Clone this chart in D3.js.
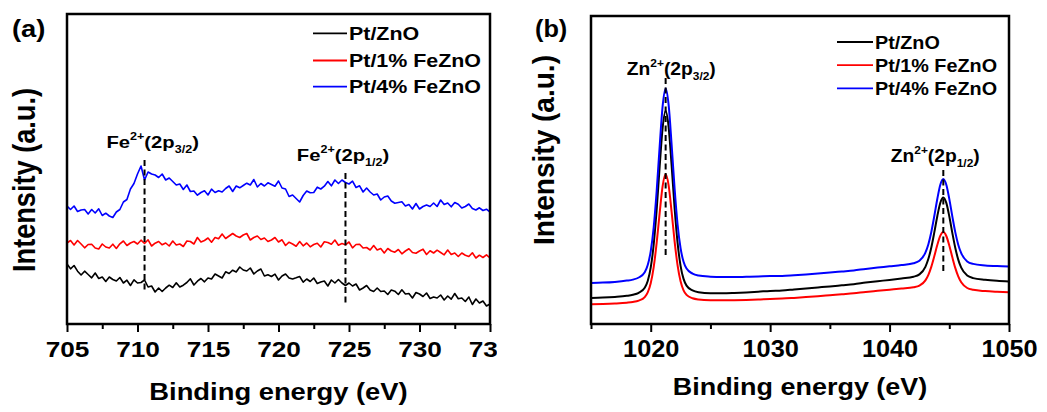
<!DOCTYPE html>
<meta charset="utf-8">
<script src="https://d3js.org/d3.v7.min.js"></script>
<style>
    body {
        margin: 0;
        background: #fff;
    }

    svg {
        display: block;
        font-family: "Liberation Sans", Arial, sans-serif;
    }
</style>
<div id="viz_area"></div>
<script>
    // (a) Fe 2p region, one reading every 0.25 eV from 705 eV
    var feStart = 705,
        feStep = 0.25
    var feZnO = [60, 55.2, 58.5, 52.8, 49, 52.8, 49.5, 46.2, 51, 45.5,
        47, 42.5, 47, 44.5, 43, 46.5, 41, 43.8, 38.5, 44.2,
        41, 41.5, 44, 37, 38, 32, 36, 32.5, 36, 38.8,
        36.5, 41.2, 37, 38.8, 41.5, 45.2, 39, 42.8, 45.5, 42.2,
        46, 45, 50, 48, 46, 52.2, 50.5, 53.8, 52, 57,
        54, 53, 56, 50, 53, 55, 48, 49.2, 47.5, 49.8,
        44, 48, 50, 46, 45, 46.2, 47.5, 41.8, 45, 42.5,
        46, 40.5, 42, 43, 38, 44, 41, 44.5, 41, 38.5,
        41, 38, 40, 34, 36, 38.5, 34, 32.5, 36, 32.5,
        33, 29.5, 34, 32.8, 29.5, 34.2, 30, 30.5, 26, 31.5,
        30, 27.5, 31, 25.5, 27, 26, 29, 24, 28, 24.8,
        30.5, 25.2, 26, 22.5, 27, 19.5, 25, 21, 23, 18,
        20
    ]
    var fe1 = [81, 83.5, 79, 83.5, 80, 76.2, 79.5, 79.8, 76, 75,
        80, 77, 76, 79.8, 75.5, 80.2, 83, 78.5, 81, 82.5,
        80, 83.8, 80.5, 84.2, 78, 80.8, 82.5, 79.2, 81, 78,
        83, 79, 80, 77.5, 83, 82.5, 80, 86.5, 82, 83.5,
        86, 81.8, 86.5, 85.2, 90, 85.5, 88, 90.5, 88, 86.5,
        89, 90.5, 84, 86.5, 88, 84.5, 86, 82.5, 84, 86.5,
        82, 84.2, 78.5, 81.8, 80, 77.8, 82.5, 78.2, 81, 77.2,
        79.5, 80.8, 77, 82.2, 81.5, 79.8, 84, 78.8, 80.5, 79.2,
        82, 76.2, 79.5, 79.8, 76, 76.5, 74, 78.5, 74, 75.5,
        71, 75.5, 73, 71.8, 74.5, 70.2, 73, 75.2, 71.5, 70.8,
        73, 74.8, 69.5, 73.2, 71, 73.8, 71.5, 69.2, 74, 69.5,
        71, 67.5, 71, 68.8, 67.5, 71.2, 66, 68.8, 66.5, 69.2,
        66
    ]
    var fe4 = [118, 114.5, 118, 112.5, 114, 114.5, 110, 114.5, 111, 115.2,
        108.5, 110.8, 108, 106.5, 112, 114.5, 122, 124.5, 135, 140.5,
        150, 158, 144, 152, 150, 149, 146.5, 150, 144, 146,
        142.5, 139, 140, 134.5, 139, 132.5, 133, 128.8, 131.5, 133.2,
        129, 134.8, 131.5, 133.2, 132, 135.5, 138, 132.5, 138, 136.2,
        138.5, 140.8, 139, 144.5, 137, 140.5, 138, 141.2, 139.5, 137.8,
        143, 136, 135, 127.5, 129, 125.5, 122, 128.5, 133, 131.2,
        131.5, 136.8, 135, 137.8, 142.5, 138.2, 144, 140.5, 144, 141.5,
        140, 142.8, 136.5, 138.2, 132, 136, 132, 129, 130, 124,
        127, 128, 123, 120.8, 121.5, 122.2, 118, 119.5, 115, 120.5,
        115, 117.5, 119, 117.5, 121, 117.5, 124, 119.5, 121, 117.2,
        121.5, 119.8, 116, 117.5, 120, 115.5, 114, 116.2, 113.5, 114.8,
        112
    ]
    var feEnergy = feZnO.map(function(d, i) {
        return feStart + i * feStep
    })

    // (b) Zn 2p region
    var znEnergy = [1015, 1016, 1017, 1018, 1018.5, 1019, 1019.5, 1019.75, 1020, 1020.25,
        1020.5, 1020.75, 1021, 1021.25, 1021.5, 1021.75, 1022, 1022.25, 1022.5, 1022.75,
        1023, 1023.5, 1024, 1025, 1026, 1027, 1028, 1029, 1030, 1031,
        1032, 1033, 1034, 1035, 1036, 1037, 1038, 1039, 1040, 1041,
        1042, 1042.5, 1043, 1043.25, 1043.5, 1043.75, 1044, 1044.25, 1044.5, 1044.75,
        1045, 1045.25, 1045.5, 1045.75, 1046, 1046.5, 1047, 1048, 1049, 1050
    ]
    var znZnO = [26.0, 26.4, 27.1, 28.2, 29.2, 31.2, 36.2, 43.0, 56.3, 79.5,
        114.6, 157.5, 196.4, 213.0, 196.9, 158.5, 116.0, 81.1, 58.2, 45.1,
        38.4, 33.6, 31.8, 30.8, 30.8, 31.1, 31.6, 32.3, 33.1, 33.6,
        34.6, 35.6, 36.6, 37.6, 38.7, 39.8, 41.4, 42.8, 44.1, 45.6,
        47.3, 49.6, 57.2, 65.2, 76.8, 91.9, 108.0, 121.3, 126.5, 121.1,
        107.7, 91.4, 76.2, 64.4, 56.3, 48.4, 45.9, 44.2, 43.2, 42.6
    ]
    var zn1 = [19.7, 20.0, 20.5, 21.3, 22.0, 23.4, 26.9, 31.6, 40.8, 56.9,
        81.3, 111.1, 138.1, 149.7, 138.6, 112.1, 82.7, 58.6, 42.7, 33.7,
        29.1, 25.7, 24.5, 23.8, 23.7, 23.8, 24.1, 24.5, 25.1, 25.4,
        26.1, 26.9, 27.8, 28.8, 29.8, 30.8, 32.1, 33.2, 34.3, 35.4,
        36.7, 38.3, 43.6, 49.2, 57.4, 67.9, 79.2, 88.3, 92.0, 88.0,
        78.5, 66.9, 56.1, 47.6, 41.7, 36.0, 34.2, 32.9, 32.2, 31.7
    ]
    var zn4 = [41.1, 41.4, 42.1, 43.4, 44.4, 46.5, 51.7, 58.9, 72.7, 96.7,
        133.2, 177.8, 218.1, 235.6, 219.1, 179.5, 135.5, 99.5, 75.8, 62.2,
        55.4, 50.4, 48.5, 47.3, 46.9, 46.9, 47.2, 47.5, 47.9, 48.0,
        48.7, 49.5, 50.4, 51.4, 52.5, 53.6, 55.1, 56.4, 57.7, 59.0,
        60.7, 63.2, 71.4, 79.8, 92.3, 108.2, 125.3, 139.3, 145, 139.2,
        125.1, 107.9, 91.9, 79.3, 70.8, 62.6, 60.1, 58.6, 57.9, 57.6
    ]

    var seriesNames = ["Pt/ZnO", "Pt/1% FeZnO", "Pt/4% FeZnO"]
    var seriesColors = ["#000000", "#ff0000", "#0000ff"]

    var feTicks = [705, 710, 715, 720, 725, 730, 735]
    var feMinor = [707.5, 712.5, 717.5, 722.5, 727.5, 732.5]
    var znTicks = [1020, 1030, 1040, 1050]
    var znMinor = [1015, 1025, 1035, 1045]

    // peak markers (energy, intensity top, intensity bottom)
    var fePeaks = [710.5, 724.75],
        fePeakTop = [164, 151],
        fePeakBottom = [34, 21]
    var znPeaks = [1021.25, 1044.5],
        znPeakTop = [246, 154],
        znPeakBottom = [67, 52]

    var feNotes = [{el: "Fe", sub: "3/2", e: 707.8, v: 176}, {el: "Fe", sub: "1/2", e: 721.3, v: 163}]
    var znNotes = [{el: "Zn", sub: "3/2", e: 1018.0, v: 249}, {el: "Zn", sub: "1/2", e: 1040.1, v: 162}]

    var svg = d3.select("#viz_area")
        .append("svg")
        .attr("width", 1047)
        .attr("height", 412)

    svg.append("rect").attr("width", 1047).attr("height", 412).attr("fill", "#fff")

    // text that is widened sideways like the source picture
    function wideText(parent, x, y, sx, str, size, anchor) {
        return parent.append("g")
            .attr("transform", "translate(" + x + "," + y + ")")
            .append("text")
            .attr("transform", "scale(" + sx + ",1)")
            .attr("text-anchor", anchor || "start")
            .attr("font-size", size)
            .attr("font-weight", "bold")
            .text(str)
    }

    function drawPanel(p) {
        var g = svg.append("g")
        var x = d3.scaleLinear().domain(p.xDomain).range([p.left, p.right])
        var y = d3.scaleLinear().domain(p.yDomain).range([p.bottom, p.top])

        svg.append("clipPath").attr("id", "plot-" + p.id)
            .append("rect")
            .attr("x", p.left).attr("y", p.top)
            .attr("width", p.right - p.left).attr("height", p.bottom - p.top)

        var line = d3.line()
            .x(function(d) { return x(d[0]) })
            .y(function(d) { return y(d[1]) })
            .curve(p.curve)

        p.series.forEach(function(vals, k) {
            g.append("path")
                .datum(vals.map(function(v, i) { return [p.energy[i], v] }))
                .attr("clip-path", "url(#plot-" + p.id + ")")
                .attr("fill", "none")
                .attr("stroke", seriesColors[k])
                .attr("stroke-width", p.lineWidth)
                .attr("stroke-linejoin", "round")
                .attr("d", line)
        })

        p.peaks.forEach(function(e, k) {
            g.append("line")
                .attr("x1", x(e)).attr("x2", x(e))
                .attr("y1", y(p.peakTop[k])).attr("y2", y(p.peakBottom[k]))
                .attr("stroke", "#000")
                .attr("stroke-width", 2)
                .attr("stroke-dasharray", "6,3.5")
        })

        g.append("rect")
            .attr("x", p.left).attr("y", p.top)
            .attr("width", p.right - p.left).attr("height", p.bottom - p.top)
            .attr("fill", "none")
            .attr("stroke", "#000")
            .attr("stroke-width", 2.5)

        // axis, clipped where the source figure was cut
        svg.append("clipPath").attr("id", "axis-" + p.id)
            .append("rect")
            .attr("x", 0).attr("y", 0)
            .attr("width", p.clipRight).attr("height", 412)
        var axisWrap = g.append("g").attr("clip-path", "url(#axis-" + p.id + ")")
        var axisG = axisWrap.append("g").attr("transform", "translate(0," + p.bottom + ")")
        axisG.call(d3.axisBottom(x).tickValues(p.ticks).tickSize(8).tickFormat(d3.format("d")))
        axisG.select(".domain").remove()
        axisG.selectAll(".tick line").attr("stroke-width", 2)
        axisG.selectAll("text")
            .attr("y", 33)
            .attr("dy", null)
            .attr("font-size", p.tickFont)
            .attr("font-weight", "bold")
            .attr("font-family", "Liberation Sans, Arial, sans-serif")
            .attr("fill", "#000")
            .attr("transform", "scale(" + p.sx + ",1)")

        var minorG = g.append("g").attr("transform", "translate(0," + p.bottom + ")")
        minorG.call(d3.axisBottom(x).tickValues(p.minor).tickSize(5).tickFormat(""))
        minorG.select(".domain").remove()
        minorG.selectAll(".tick line").attr("stroke-width", 2)

        // notes over the peaks
        p.notes.forEach(function(n) {
            var f = p.noteFont
            var t = g.append("g")
                .attr("transform", "translate(" + x(n.e) + "," + y(n.v) + ")")
                .append("text")
                .attr("transform", "scale(" + p.sx + ",1)")
                .attr("font-weight", "bold")
                .attr("font-size", f)
            t.append("tspan").text(n.el)
            t.append("tspan").attr("font-size", f * 0.62).attr("dy", -f * 0.45).text("2+")
            t.append("tspan").attr("dy", f * 0.45).text("(2p")
            t.append("tspan").attr("font-size", f * 0.62).attr("dy", f * 0.3).text(n.sub)
            t.append("tspan").attr("dy", -f * 0.3).text(")")
        })

        // legend
        seriesNames.forEach(function(name, k) {
            var ly = p.legendY[k]
            g.append("line")
                .attr("x1", p.legendX[0]).attr("x2", p.legendX[1])
                .attr("y1", ly).attr("y2", ly)
                .attr("stroke", seriesColors[k])
                .attr("stroke-width", 1.8)
            wideText(g, p.legendX[1] + 2, ly + 6.5, p.sx, name, 18)
        })

        // titles
        wideText(g, (p.left + p.right) / 2, p.xTitleY, p.sx, "Binding energy (eV)", p.xTitleFont, "middle")
        g.append("g")
            .attr("transform", "translate(" + p.yTitle[0] + "," + p.yTitle[1] + ")")
            .append("text")
            .attr("transform", "scale(" + p.sx + ",1) rotate(-90)")
            .attr("text-anchor", "middle")
            .attr("font-size", 26)
            .attr("font-weight", "bold")
            .attr("textLength", p.yTitle[2])
            .attr("lengthAdjust", "spacingAndGlyphs")
            .text("Intensity (a.u.)")
        wideText(g, p.letterPos[0], p.letterPos[1], p.sx, p.letter, 23)
    }

    drawPanel({
        id: "a",
        letter: "(a)",
        letterPos: [12, 37],
        left: 67, right: 490, top: 14, bottom: 324,
        xDomain: [705, 735], yDomain: [0, 310],
        sx: 1.19,
        energy: feEnergy,
        series: [feZnO, fe1, fe4],
        curve: d3.curveLinear,
        lineWidth: 1.6,
        ticks: feTicks, minor: feMinor, tickFont: 22,
        clipRight: 497,
        peaks: fePeaks, peakTop: fePeakTop, peakBottom: fePeakBottom,
        notes: feNotes, noteFont: 17,
        legendX: [313, 347], legendY: [33.3, 60.5, 86.7],
        xTitleY: 400, xTitleFont: 23,
        yTitle: [35, 180, 184]
    })

    drawPanel({
        id: "b",
        letter: "(b)",
        letterPos: [535, 37],
        left: 591, right: 1009, top: 16, bottom: 324,
        xDomain: [1015, 1050], yDomain: [0, 308],
        sx: 1.1,
        energy: znEnergy,
        series: [znZnO, zn1, zn4],
        curve: d3.curveMonotoneX,
        lineWidth: 2,
        ticks: znTicks, minor: znMinor, tickFont: 23,
        clipRight: 1047,
        peaks: znPeaks, peakTop: znPeakTop, peakBottom: znPeakBottom,
        notes: znNotes, noteFont: 17.5,
        legendX: [837, 873], legendY: [42, 65.2, 88.3],
        xTitleY: 395, xTitleFont: 24.5,
        yTitle: [554, 150, 190]
    })
</script>
